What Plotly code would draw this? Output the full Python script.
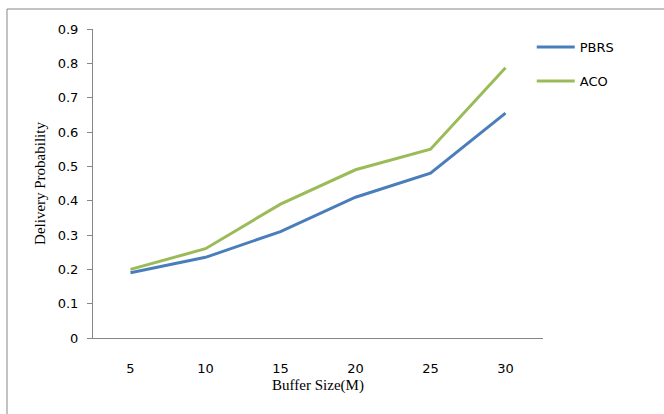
import plotly.graph_objects as go

buffer_sizes = ["5", "10", "15", "20", "25", "30"]
pbrs = [0.19, 0.235, 0.31, 0.41, 0.48, 0.655]
aco = [0.20, 0.26, 0.39, 0.49, 0.55, 0.787]
y_ticks = [0, 0.1, 0.2, 0.3, 0.4, 0.5, 0.6, 0.7, 0.8, 0.9]

fig = go.Figure()
fig.add_trace(go.Scatter(x=buffer_sizes, y=pbrs, mode="lines", name="PBRS",
                         line=dict(color="#4A7EBB", width=3), legendgroup="a"))
fig.add_trace(go.Scatter(x=buffer_sizes, y=aco, mode="lines", name="ACO",
                         line=dict(color="#9BBB59", width=3), legendgroup="b"))

tick_font = dict(family="DejaVu Sans, Verdana", size=13, color="#000000")
title_font = dict(family="Liberation Serif, Times New Roman", size=15, color="#000000")

fig.update_layout(
    width=664, height=414,
    margin=dict(l=93, r=121, t=29, b=76, autoexpand=False),
    paper_bgcolor="white", plot_bgcolor="white",
    font=tick_font,
    showlegend=True,
    legend=dict(x=0.975, xanchor="left", y=0.99, yanchor="top",
                font=tick_font, tracegroupgap=14, bgcolor="rgba(0,0,0,0)",
                itemwidth=38),
    xaxis=dict(type="category", range=[-0.5, 5.5], showgrid=False, showline=True,
               linecolor="#868686", linewidth=1, ticks="", tickfont=tick_font,
               ticklabelstandoff=18,
               title=dict(text="Buffer Size(M)", font=title_font, standoff=4)),
    yaxis=dict(range=[0, 0.9], tickvals=y_ticks, showgrid=False, showline=True,
               linecolor="#868686", linewidth=1, ticks="outside", ticklen=5,
               tickcolor="#868686", zeroline=False, tickfont=tick_font,
               ticklabelstandoff=6,
               title=dict(text="Delivery Probability", font=title_font, standoff=8)),
    shapes=[dict(type="rect", xref="paper", yref="paper", x0=-0.1911, x1=2.0, y0=-1.0, y1=1.0647,
                 line=dict(color="#868686", width=1))],
)

fig.write_html("out.html", config={"displayModeBar": False},
               post_script="document.body.style.margin='0';")
